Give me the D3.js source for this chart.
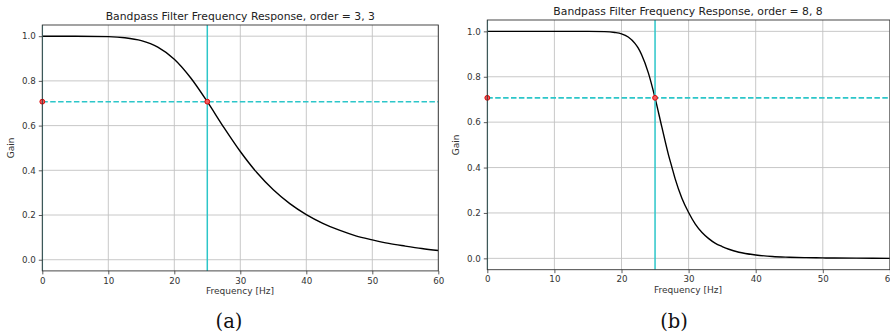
<!DOCTYPE html>
<html>
<head>
<meta charset="utf-8">
<script src="https://cdn.jsdelivr.net/npm/d3@7"></script>
<style>
  html, body { margin: 0; padding: 0; background: #fff; }
  svg { display: block; }
  text { font-family: "DejaVu Sans", sans-serif; }
</style>
</head>
<body>
<svg id="chart" width="890" height="335"></svg>
<script>
// ---- data ----
const freqA = [0, 5, 10, 12.5, 15, 17.5, 20, 22.5, 25, 27.5, 30, 32.5, 35, 37.5, 40, 42.5, 45, 47.5, 50, 52.5, 55, 57.5, 60];
const gainA = [1.0, 1.0, 0.998, 0.993, 0.980, 0.951, 0.897, 0.813, 0.707, 0.592, 0.484, 0.390, 0.313, 0.251, 0.202, 0.163, 0.132, 0.107, 0.089, 0.073, 0.061, 0.050, 0.041];

const freqB = [0, 5, 10, 12.5, 15, 17.5, 19, 20, 21, 22, 22.5, 23, 24, 25, 26, 27, 27.5, 28, 29, 30, 31, 32, 33, 34, 35, 36, 37.5, 40, 42.5, 45, 47.5, 50, 55, 60];
const gainB = [1.0, 1.0, 1.0, 1.0, 1.0, 0.999, 0.995, 0.989, 0.975, 0.947, 0.926, 0.897, 0.817, 0.707, 0.580, 0.456, 0.403, 0.350, 0.265, 0.202, 0.151, 0.114, 0.087, 0.066, 0.052, 0.040, 0.027, 0.015, 0.008, 0.005, 0.003, 0.002, 0.001, 0.0];

const xTicks = [0, 10, 20, 30, 40, 50, 60];
const yTicks = [0.0, 0.2, 0.4, 0.6, 0.8, 1.0];
const cutoffFreq = 25;
const halfPower = 0.707;
const markerFreqs = [0, 25];

const titles = ["Bandpass Filter Frequency Response, order = 3, 3",
                "Bandpass Filter Frequency Response, order = 8, 8"];
const captions = ["(a)", "(b)"];
const xLabel = "Frequency [Hz]";
const yLabel = "Gain";

// ---- drawing ----
const svg = d3.select("#chart");
const CYAN = "#2cc6c9";

function drawPanel(p) {
  const x = d3.scaleLinear().domain([0, 60]).range([p.left, p.right]);
  const y = d3.scaleLinear().domain([-0.05, 1.05]).range([p.bottom, p.top]);
  const g = svg.append("g");

  const clipId = "clip" + p.id;
  g.append("clipPath").attr("id", clipId)
    .append("rect").attr("x", p.left).attr("y", p.top)
    .attr("width", p.right - p.left).attr("height", p.bottom - p.top);

  // grid
  g.append("g").selectAll("line").data(xTicks).join("line")
    .attr("x1", d => x(d)).attr("x2", d => x(d))
    .attr("y1", p.top).attr("y2", p.bottom)
    .attr("stroke", "#c2c2c2").attr("stroke-width", 0.9);
  g.append("g").selectAll("line").data(yTicks).join("line")
    .attr("x1", p.left).attr("x2", p.right)
    .attr("y1", d => y(d)).attr("y2", d => y(d))
    .attr("stroke", "#c2c2c2").attr("stroke-width", 0.9);

  const plot = g.append("g").attr("clip-path", `url(#${clipId})`);

  // response curve
  const line = d3.line().x(d => x(d[0])).y(d => y(d[1])).curve(d3.curveMonotoneX);
  plot.append("path").datum(p.freq.map((f, i) => [f, p.gain[i]]))
    .attr("d", line).attr("fill", "none")
    .attr("stroke", "#000").attr("stroke-width", 1.4);

  // horizontal dashed half-power line
  plot.append("line")
    .attr("x1", p.left).attr("x2", p.right)
    .attr("y1", y(halfPower)).attr("y2", y(halfPower))
    .attr("stroke", CYAN).attr("stroke-width", 1.6)
    .attr("stroke-dasharray", "5.5,2.4");

  // vertical lines at 0 and cutoff
  plot.selectAll("line.v").data([0, cutoffFreq]).join("line").attr("class", "v")
    .attr("x1", d => x(d)).attr("x2", d => x(d))
    .attr("y1", p.top).attr("y2", p.bottom)
    .attr("stroke", CYAN).attr("stroke-width", 1.5);

  // markers
  g.selectAll("circle").data(markerFreqs).join("circle")
    .attr("cx", d => x(d)).attr("cy", y(halfPower)).attr("r", 2.4)
    .attr("fill", "#f06060").attr("stroke", "#e00000").attr("stroke-width", 1);

  // frame
  g.append("rect").attr("x", p.left).attr("y", p.top)
    .attr("width", p.right - p.left).attr("height", p.bottom - p.top)
    .attr("fill", "none").attr("stroke", "#333").attr("stroke-width", 0.9);

  // axes
  const xAxis = d3.axisBottom(x).tickValues(xTicks).tickFormat(d3.format("d"))
    .tickSize(3.5).tickPadding(3);
  const gx = g.append("g").attr("transform", `translate(0,${p.bottom})`).call(xAxis);
  const yAxis = d3.axisLeft(y).tickValues(yTicks).tickFormat(d3.format(".1f"))
    .tickSize(3.5).tickPadding(3);
  const gy = g.append("g").attr("transform", `translate(${p.left},0)`).call(yAxis);
  [gx, gy].forEach(a => {
    a.select(".domain").remove();
    a.selectAll(".tick line").attr("stroke", "#333").attr("stroke-width", 0.8);
    a.selectAll(".tick text").attr("fill", "#333")
      .style("font-family", "'DejaVu Sans', sans-serif").style("font-size", "8.7px");
  });

  // labels
  g.append("text").attr("x", (p.left + p.right) / 2 + p.titleDx).attr("y", p.titleY)
    .attr("text-anchor", "middle").attr("fill", "#222")
    .style("font-size", "10.8px").text(p.title);
  g.append("text").attr("x", p.xLabelX).attr("y", p.bottom + 23.5)
    .attr("text-anchor", "middle").attr("fill", "#333")
    .style("font-size", "9px").text(xLabel);
  g.append("text")
    .attr("transform", `translate(${p.left - 28},${(p.top + p.bottom) / 2}) rotate(-90)`)
    .attr("text-anchor", "middle").attr("fill", "#333")
    .style("font-size", "9px").text(yLabel);
  g.append("text").attr("x", p.captionX).attr("y", 328)
    .attr("text-anchor", "middle").attr("fill", "#111")
    .style("font-family", "'DejaVu Serif', serif").style("font-size", "19.5px")
    .text(p.caption);
}

drawPanel({ id: "a", left: 42.3, right: 438.3, top: 25, bottom: 270.9,
  freq: freqA, gain: gainA, title: titles[0], titleY: 20, titleDx: 0,
  xLabelX: 240, caption: captions[0], captionX: 229 });
drawPanel({ id: "b", left: 487.3, right: 889.9, top: 20, bottom: 269.7,
  freq: freqB, gain: gainB, title: titles[1], titleY: 15, titleDx: -0.6,
  xLabelX: 688, caption: captions[1], captionX: 674 });
</script>
</body>
</html>
